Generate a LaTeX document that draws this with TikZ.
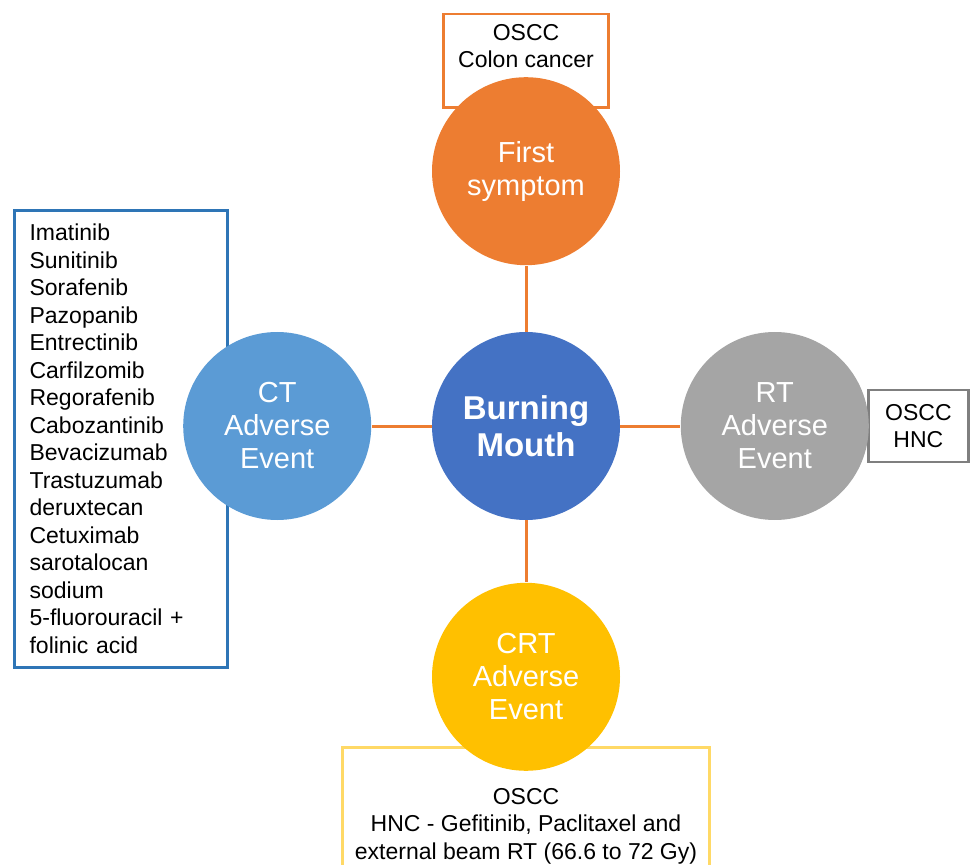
\documentclass[tikz,border=0pt]{standalone}
\usepackage{fontspec}
\setmainfont{Liberation Sans}
\usepackage{tikz}
\usetikzlibrary{positioning, backgrounds}

\definecolor{bmOrange}{HTML}{ED7D31}
\definecolor{bmBlue}{HTML}{4472C4}
\definecolor{bmLightBlue}{HTML}{5B9BD5}
\definecolor{bmGray}{HTML}{A5A5A5}
\definecolor{bmYellow}{HTML}{FFC000}
\definecolor{bmBoxBlue}{HTML}{2E75B6}
\definecolor{bmBoxGray}{HTML}{7F7F7F}
\definecolor{bmBoxYellow}{HTML}{FFD966}

\begin{document}
\begin{tikzpicture}[
    hub/.style={circle, minimum size=94pt, inner sep=0pt, text=white, align=center, font=\fontsize{14.5}{16.5}\selectfont},
    info/.style={rectangle, draw, line width=1.2pt, fill=white, inner xsep=5pt, inner ysep=5pt, font=\fontsize{11.5}{13.75}\selectfont},
    link/.style={draw=bmOrange, line width=1.5pt}
]
\useasboundingbox (0,0) rectangle (485pt,432pt);

\node[hub, fill=bmBlue, font=\fontsize{16.5}{18.5}\selectfont\bfseries] (mouth) at (263pt,219pt) {Burning\\Mouth};

\node[hub, fill=bmOrange, above=33pt of mouth] (first) {First\\symptom};
\node[hub, fill=bmLightBlue, left=30pt of mouth] (ct) {CT\\Adverse\\Event};
\node[hub, fill=bmGray, right=30pt of mouth] (rt) {RT\\Adverse\\Event};
\node[hub, fill=bmYellow, below=31pt of mouth] (crt) {CRT\\Adverse\\Event};

% boxes sit behind the circles
\begin{scope}[on background layer]
\node[info, draw=bmOrange, minimum width=82.5pt, align=center, above=-16pt of first] (firstBox) {OSCC\\Colon cancer\rule[-15pt]{0pt}{15pt}};
\node[info, draw=bmBoxBlue, text width=91.5pt, inner xsep=7.5pt, inner ysep=7pt, align=left, left=-23pt of ct, yshift=-6.5pt] (ctBox) {Imatinib\\Sunitinib\\Sorafenib\\Pazopanib\\Entrectinib\\Carfilzomib\\Regorafenib\\Cabozantinib\\Bevacizumab\\Trastuzumab\\deruxtecan\\Cetuximab\\sarotalocan\\sodium\\5-fluorouracil +\\folinic acid};
\node[info, draw=bmBoxGray, minimum width=50pt, minimum height=36pt, align=center, right=-1pt of rt] (rtBox) {OSCC\\HNC};
\node[info, draw=bmBoxYellow, minimum width=183.5pt, align=center, below=-12.5pt of crt] (crtBox) {\rule{0pt}{23.5pt}OSCC\\HNC - Gefitinib, Paclitaxel and\\external beam RT (66.6 to 72 Gy)};
\end{scope}

\draw[link] (mouth) -- (first);
\draw[link] (mouth) -- (ct);
\draw[link] (mouth) -- (rt);
\draw[link] (mouth) -- (crt);
\end{tikzpicture}
\end{document}
